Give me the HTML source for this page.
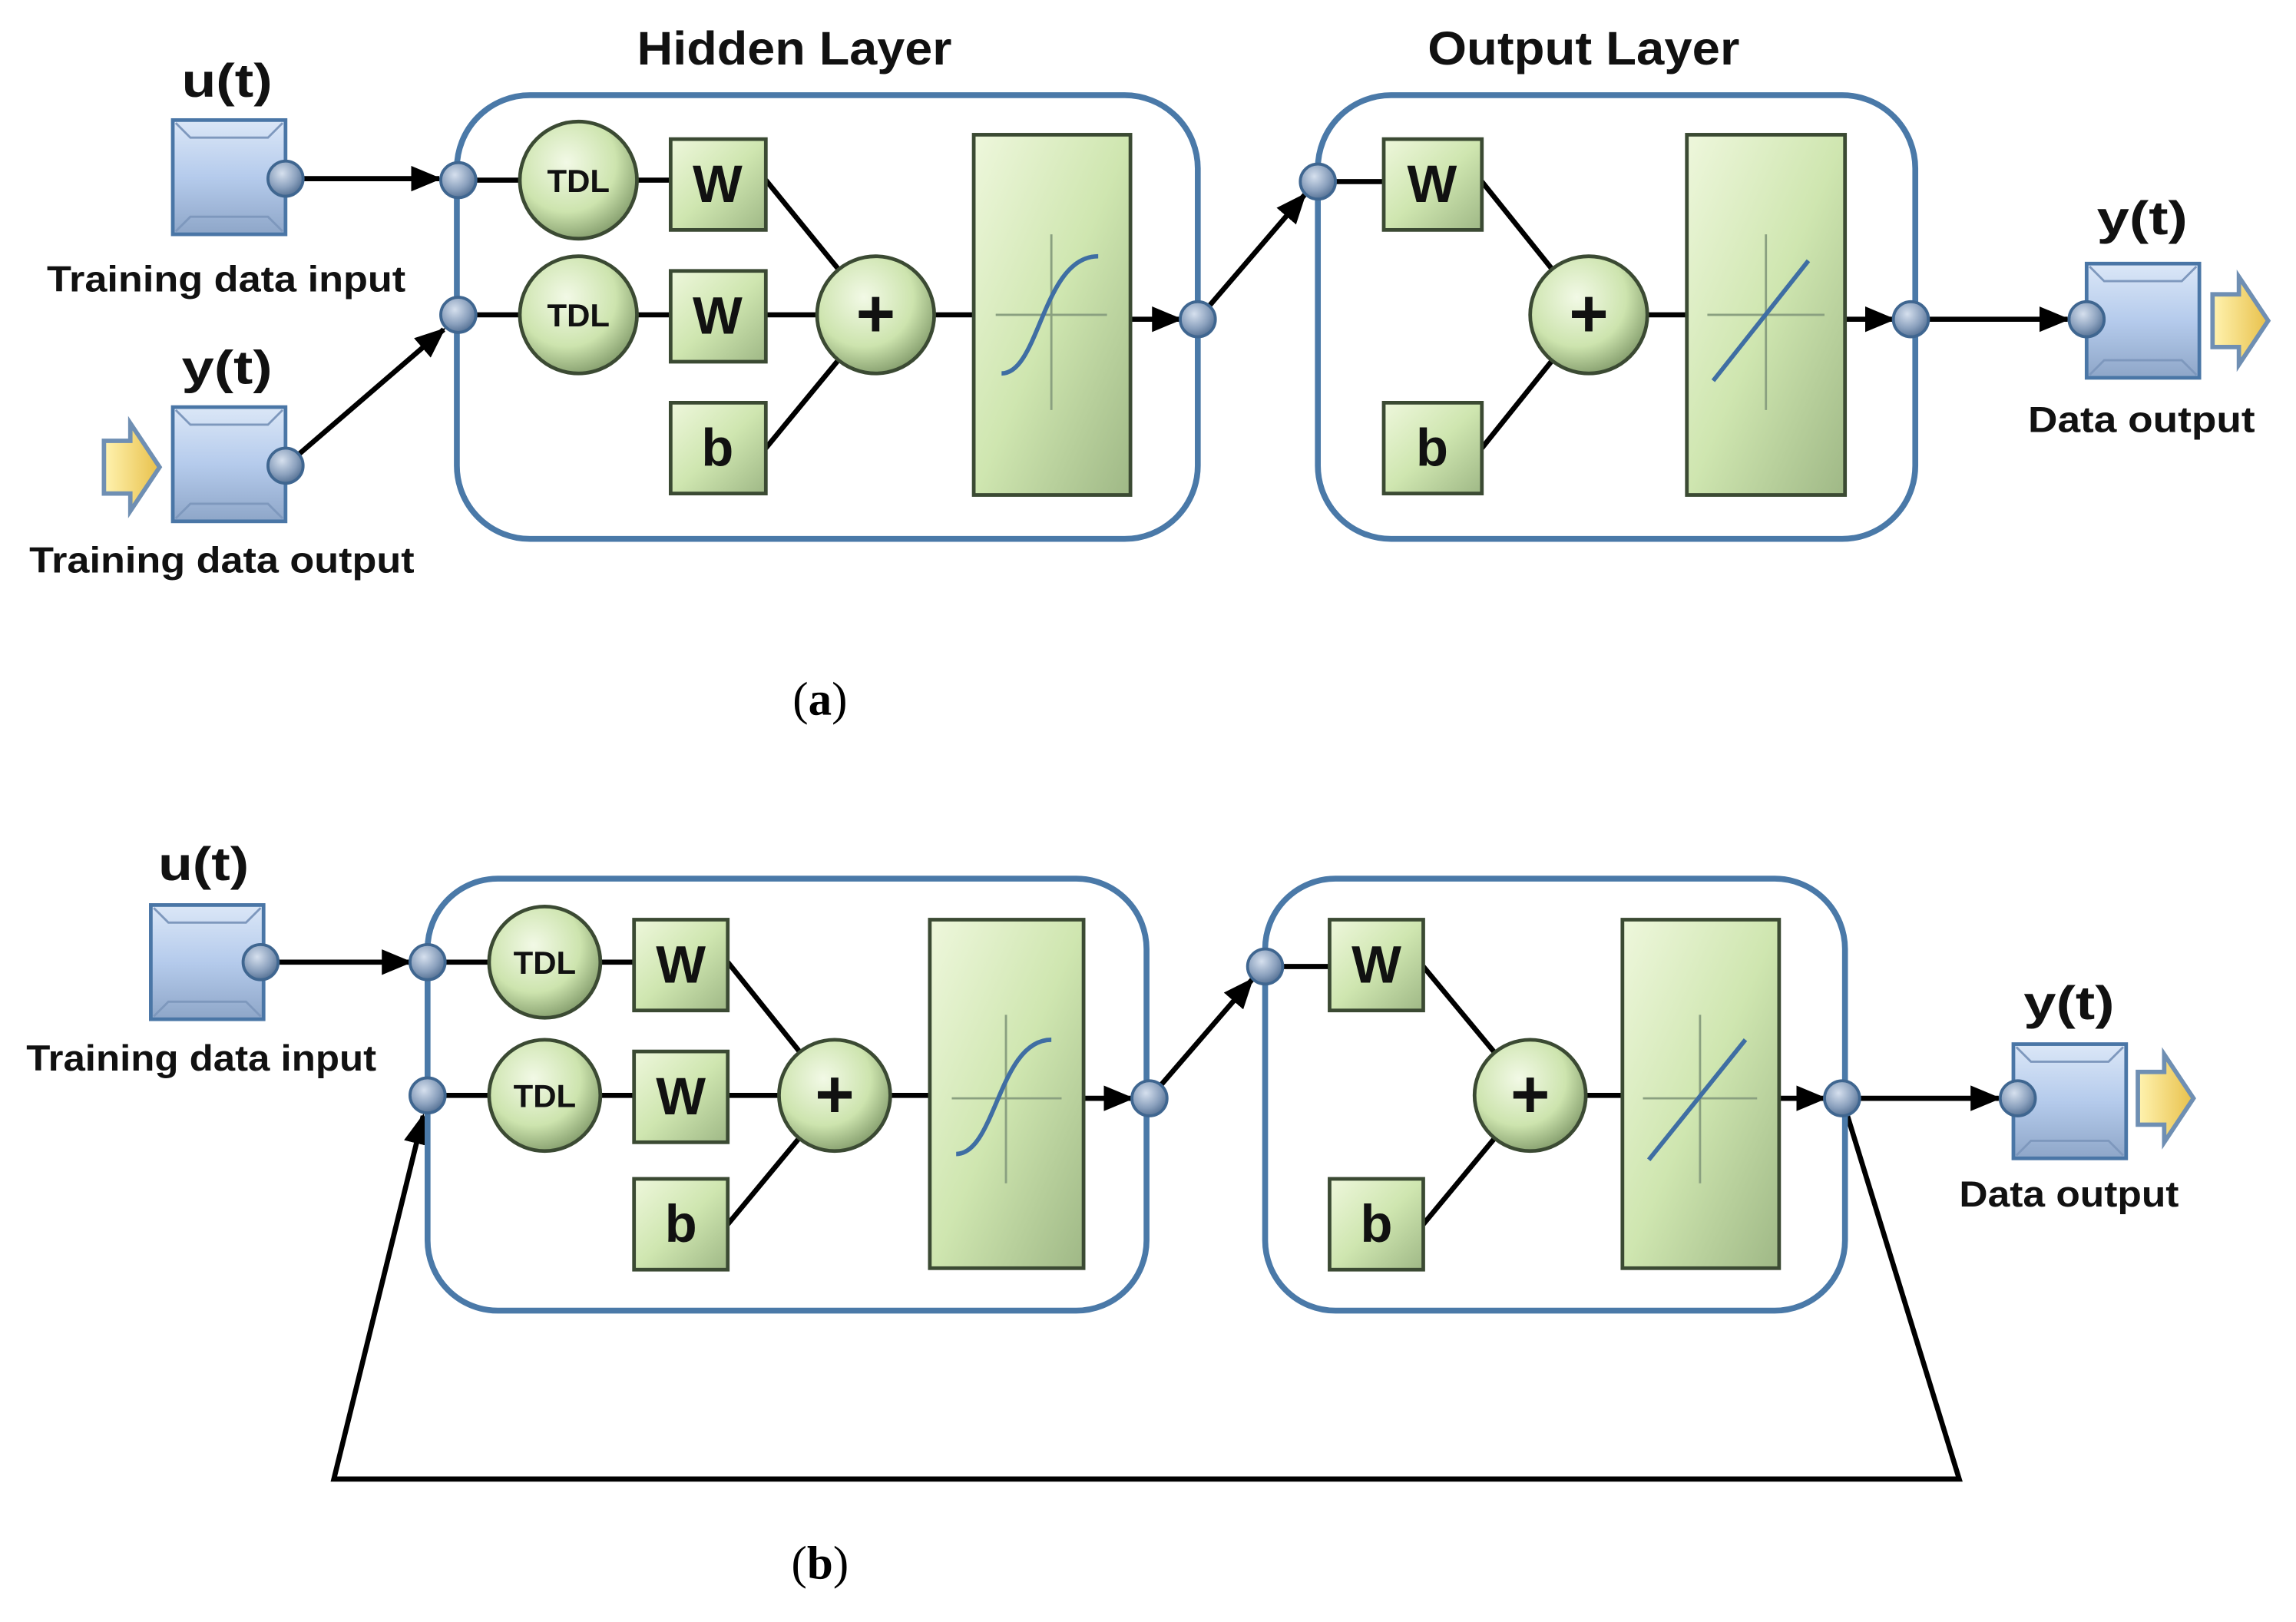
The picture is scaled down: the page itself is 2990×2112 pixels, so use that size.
<!DOCTYPE html>
<html><head><meta charset="utf-8"><style>html,body{margin:0;padding:0;background:#fff}svg{display:block}</style></head>
<body>
<svg width="2990" height="2112" viewBox="0 0 1568 1107.6" preserveAspectRatio="none" xmlns="http://www.w3.org/2000/svg" font-family="Liberation Sans, sans-serif" font-weight="bold">
<defs>
<linearGradient id="bl" x1="0" y1="0" x2="0" y2="1"><stop offset="0" stop-color="#dbe7f7"/><stop offset="0.5" stop-color="#b5cbec"/><stop offset="1" stop-color="#8ea6c8"/></linearGradient>
<linearGradient id="gr" x1="0" y1="0" x2="1" y2="1"><stop offset="0" stop-color="#eef7dc"/><stop offset="0.5" stop-color="#cfe6b0"/><stop offset="1" stop-color="#9fb886"/></linearGradient>
<radialGradient id="gc" cx="0.4" cy="0.35" r="0.7"><stop offset="0" stop-color="#f2f9e6"/><stop offset="0.6" stop-color="#cde4ae"/><stop offset="1" stop-color="#7f9868"/></radialGradient>
<radialGradient id="pc" cx="0.4" cy="0.35" r="0.7"><stop offset="0" stop-color="#d6e0ee"/><stop offset="0.6" stop-color="#8aa0bd"/><stop offset="1" stop-color="#4e6b8f"/></radialGradient>
<linearGradient id="ye" x1="0" y1="0" x2="1" y2="0"><stop offset="0" stop-color="#fff3b0"/><stop offset="1" stop-color="#e8c04a"/></linearGradient>
<marker id="ar" markerWidth="6" markerHeight="6" refX="5.5" refY="3" orient="auto" markerUnits="strokeWidth"><path d="M0,0.5 L6,3 L0,5.5z" fill="#000"/></marker>
<g id="sq"><rect x="0" y="0" width="77" height="78" fill="url(#bl)" stroke="#4a76a6" stroke-width="2.5"/><path d="M2,2 L12,12 L65,12 L75,2 M2,76 L12,66 L65,66 L75,76" fill="none" stroke="#7e98bd" stroke-width="1.5"/></g>
<g id="ya"><path d="M0,12 L18,12 L18,0 L38,30 L18,60 L18,48 L0,48z" fill="url(#ye)" stroke="#6f8fb3" stroke-width="3"/></g>
</defs>
<g stroke="#000" stroke-width="3.5" fill="none">
<line x1="195" y1="122" x2="300" y2="122" marker-end="url(#ar)"/>
<line x1="195" y1="318" x2="303" y2="225" marker-end="url(#ar)"/>
<line x1="313" y1="123" x2="458" y2="123"/><line x1="313" y1="215" x2="458" y2="215"/>
<line x1="523" y1="123" x2="598" y2="215"/><line x1="523" y1="215" x2="598" y2="215"/><line x1="523" y1="306" x2="598" y2="215"/>
<line x1="598" y1="215" x2="665" y2="215"/><line x1="772" y1="218" x2="806" y2="218" marker-end="url(#ar)"/>
<line x1="818" y1="218" x2="891" y2="133" marker-end="url(#ar)"/>
<line x1="900" y1="124" x2="945" y2="124"/>
<line x1="1012" y1="124" x2="1085" y2="215"/><line x1="1012" y1="306" x2="1085" y2="215"/>
<line x1="1085" y1="215" x2="1152" y2="215"/><line x1="1260" y1="218" x2="1293" y2="218" marker-end="url(#ar)"/>
<line x1="1305" y1="218" x2="1412" y2="218" marker-end="url(#ar)"/>
<line x1="178" y1="657" x2="280" y2="657" marker-end="url(#ar)"/>
<line x1="292" y1="657" x2="433" y2="657"/><line x1="292" y1="748" x2="433" y2="748"/>
<line x1="497" y1="657" x2="570" y2="748"/><line x1="497" y1="748" x2="570" y2="748"/><line x1="497" y1="836" x2="570" y2="748"/>
<line x1="570" y1="748" x2="635" y2="748"/><line x1="740" y1="750" x2="773" y2="750" marker-end="url(#ar)"/>
<line x1="785" y1="750" x2="855" y2="669" marker-end="url(#ar)"/>
<line x1="864" y1="660" x2="908" y2="660"/>
<line x1="972" y1="660" x2="1045" y2="748"/><line x1="972" y1="836" x2="1045" y2="748"/>
<line x1="1045" y1="748" x2="1108" y2="748"/><line x1="1215" y1="750" x2="1246" y2="750" marker-end="url(#ar)"/>
<line x1="1258" y1="750" x2="1365" y2="750" marker-end="url(#ar)"/>
<polyline points="1258,750 1338,1010 228,1010 289,762" marker-end="url(#ar)"/>
</g>
<g fill="none" stroke="#4a79a8" stroke-width="4">
<rect x="312" y="65" width="506" height="303" rx="50"/>
<rect x="900" y="65" width="408" height="303" rx="50"/>
<rect x="292" y="600" width="491" height="295" rx="48"/>
<rect x="864" y="600" width="396" height="295" rx="48"/>
</g>
<g font-size="32" fill="#111" lengthAdjust="spacingAndGlyphs">
<text x="435" y="44" textLength="215" lengthAdjust="spacingAndGlyphs">Hidden Layer</text>
<text x="975" y="44" textLength="213" lengthAdjust="spacingAndGlyphs">Output Layer</text>
<text x="124" y="66" textLength="62" lengthAdjust="spacingAndGlyphs">u(t)</text>
<text x="124" y="262" textLength="62" lengthAdjust="spacingAndGlyphs">y(t)</text>
<text x="1432" y="160" textLength="62" lengthAdjust="spacingAndGlyphs">y(t)</text>
<text x="108" y="601" textLength="62" lengthAdjust="spacingAndGlyphs">u(t)</text>
<text x="1382" y="696" textLength="62" lengthAdjust="spacingAndGlyphs">y(t)</text>
</g>
<g font-size="25" fill="#111">
<text x="32" y="199" textLength="245" lengthAdjust="spacingAndGlyphs">Training data input</text>
<text x="20" y="391" textLength="263" lengthAdjust="spacingAndGlyphs">Training data output</text>
<text x="1385" y="295" textLength="155" lengthAdjust="spacingAndGlyphs">Data output</text>
<text x="18" y="731" textLength="239" lengthAdjust="spacingAndGlyphs">Training data input</text>
<text x="1338" y="824" textLength="150" lengthAdjust="spacingAndGlyphs">Data output</text>
</g>
<g font-family="Liberation Serif, serif" font-size="32" text-anchor="middle" font-weight="normal">
<text x="560" y="488">(<tspan font-weight="bold">a</tspan>)</text>
<text x="560" y="1078">(<tspan font-weight="bold">b</tspan>)</text>
</g>
<use href="#sq" x="118" y="82"/><use href="#sq" x="118" y="278"/><use href="#sq" x="1425" y="180"/>
<use href="#sq" x="103" y="618"/><use href="#sq" x="1375" y="713"/>
<use href="#ya" x="71" y="289"/><use href="#ya" x="1511" y="189"/><use href="#ya" x="1460" y="720"/>
<g stroke="#3b4a33" stroke-width="2.5">
<circle cx="395" cy="123" r="40" fill="url(#gc)"/><circle cx="395" cy="215" r="40" fill="url(#gc)"/>
<circle cx="598" cy="215" r="40" fill="url(#gc)"/><circle cx="1085" cy="215" r="40" fill="url(#gc)"/>
<circle cx="372" cy="657" r="38" fill="url(#gc)"/><circle cx="372" cy="748" r="38" fill="url(#gc)"/>
<circle cx="570" cy="748" r="38" fill="url(#gc)"/><circle cx="1045" cy="748" r="38" fill="url(#gc)"/>
<rect x="458" y="95" width="65" height="62" fill="url(#gr)"/><rect x="458" y="185" width="65" height="62" fill="url(#gr)"/><rect x="458" y="275" width="65" height="62" fill="url(#gr)"/>
<rect x="945" y="95" width="67" height="62" fill="url(#gr)"/><rect x="945" y="275" width="67" height="62" fill="url(#gr)"/>
<rect x="665" y="92" width="107" height="246" fill="url(#gr)"/><rect x="1152" y="92" width="108" height="246" fill="url(#gr)"/>
<rect x="433" y="628" width="64" height="62" fill="url(#gr)"/><rect x="433" y="718" width="64" height="62" fill="url(#gr)"/><rect x="433" y="805" width="64" height="62" fill="url(#gr)"/>
<rect x="908" y="628" width="64" height="62" fill="url(#gr)"/><rect x="908" y="805" width="64" height="62" fill="url(#gr)"/>
<rect x="635" y="628" width="105" height="238" fill="url(#gr)"/><rect x="1108" y="628" width="107" height="238" fill="url(#gr)"/>
</g>
<g font-size="22" text-anchor="middle" fill="#111">
<text x="395" y="131">TDL</text><text x="395" y="223">TDL</text><text x="372" y="665">TDL</text><text x="372" y="756">TDL</text>
</g>
<g font-size="36" text-anchor="middle" fill="#111">
<text x="490" y="138">W</text><text x="490" y="228">W</text><text x="490" y="318">b</text>
<text x="978" y="138">W</text><text x="978" y="318">b</text>
<text x="465" y="671">W</text><text x="465" y="761">W</text><text x="465" y="848">b</text>
<text x="940" y="671">W</text><text x="940" y="848">b</text>
<text x="598" y="230" font-size="46">+</text><text x="1085" y="230" font-size="46">+</text>
<text x="570" y="763" font-size="46">+</text><text x="1045" y="763" font-size="46">+</text>
</g>
<g stroke="#8aa080" stroke-width="1.5"><line x1="718" y1="160" x2="718" y2="280"/><line x1="680" y1="215" x2="756" y2="215"/>
<line x1="1206" y1="160" x2="1206" y2="280"/><line x1="1166" y1="215" x2="1246" y2="215"/>
<line x1="687" y1="693" x2="687" y2="808"/><line x1="650" y1="750" x2="725" y2="750"/>
<line x1="1161" y1="693" x2="1161" y2="808"/><line x1="1122" y1="750" x2="1200" y2="750"/></g>
<g stroke="#3f6ea3" stroke-width="3" fill="none">
<path d="M684,255 C710,255 712,175 750,175"/><line x1="1170" y1="260" x2="1235" y2="178"/>
<path d="M653,788 C680,788 682,710 718,710"/><line x1="1126" y1="792" x2="1192" y2="710"/>
</g>
<g fill="url(#pc)" stroke="#3f6690" stroke-width="2">
<circle cx="195" cy="122" r="12"/><circle cx="195" cy="318" r="12"/><circle cx="313" cy="123" r="12"/><circle cx="313" cy="215" r="12"/>
<circle cx="818" cy="218" r="12"/><circle cx="900" cy="124" r="12"/><circle cx="1305" cy="218" r="12"/><circle cx="1425" cy="218" r="12"/>
<circle cx="178" cy="657" r="12"/><circle cx="292" cy="657" r="12"/><circle cx="292" cy="748" r="12"/><circle cx="785" cy="750" r="12"/>
<circle cx="864" cy="660" r="12"/><circle cx="1258" cy="750" r="12"/><circle cx="1378" cy="750" r="12"/>
</g>
</svg>
</body></html>
